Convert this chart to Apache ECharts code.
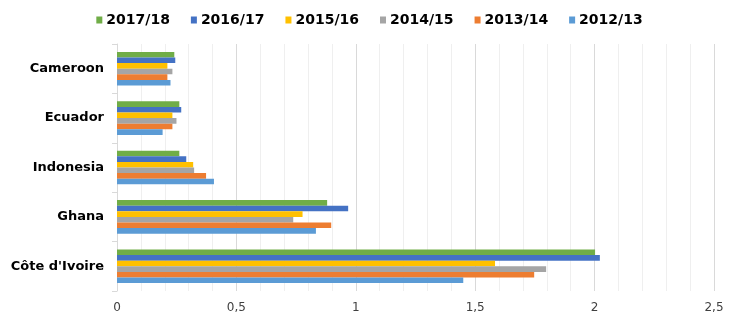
<!DOCTYPE html>
<html><head><meta charset="utf-8">
<script src="https://cdn.jsdelivr.net/npm/echarts@6/dist/echarts.min.js"></script>
<style>html,body{margin:0;padding:0;background:#fff}#c{width:739px;height:322px}</style>
</head><body><div id="c"></div>
<script>
const categories = ["Côte d'Ivoire", "Ghana", "Indonesia", "Ecuador", "Cameroon"];
const seasons = ["2017/18", "2016/17", "2015/16", "2014/15", "2013/14", "2012/13"];
const s2017_18 = [2.002, 0.880, 0.261, 0.261, 0.240];
const s2016_17 = [2.022, 0.968, 0.290, 0.269, 0.244];
const s2015_16 = [1.583, 0.777, 0.319, 0.232, 0.211];
const s2014_15 = [1.797, 0.738, 0.323, 0.249, 0.232];
const s2013_14 = [1.747, 0.897, 0.373, 0.232, 0.211];
const s2012_13 = [1.45, 0.833, 0.406, 0.191, 0.224];
const xTicks = [0, 0.5, 1, 1.5, 2, 2.5];
const values = [s2017_18, s2016_17, s2015_16, s2014_15, s2013_14, s2012_13];
const colors = ["#70AD47", "#4472C4", "#FFC000", "#A5A5A5", "#ED7D31", "#5B9BD5"];

const chart = echarts.init(document.getElementById('c'));
chart.setOption({
  animation: false,
  legend: {
    data: seasons,
    left: 'center', top: 8,
    itemWidth: 6, itemHeight: 7, itemGap: 21,
    icon: 'rect',
    textStyle: { fontFamily: 'DejaVu Sans', fontWeight: 'bold', fontSize: 14, color: '#000', padding: [0,0,0,-1] }
  },
  grid: { left: 117, right: 25, top: 44, bottom: 31 },
  xAxis: {
    type: 'value', min: xTicks[0], max: xTicks[xTicks.length - 1], interval: 0.5,
    axisLine: { show: false }, axisTick: { show: false },
    axisLabel: { fontFamily: 'DejaVu Sans', fontSize: 12, color: '#404040', margin: 11,
      formatter: v => String(v).replace('.', ',') },
    splitLine: { show: true, lineStyle: { color: '#D9D9D9', width: 1 } },
    minorTick: { show: false, splitNumber: 5 },
    minorSplitLine: { show: true, lineStyle: { color: '#EFEFEF', width: 1 } }
  },
  yAxis: {
    type: 'category', data: categories,
    axisLine: { show: true, lineStyle: { color: '#D9D9D9' } },
    axisTick: { show: true, length: 5, lineStyle: { color: '#D9D9D9' } },
    axisLabel: { fontFamily: 'DejaVu Sans', fontWeight: 'bold', fontSize: 13, color: '#000', margin: 13 }
  },
  series: seasons.map((s, i) => ({
    name: s, type: 'bar', data: values[i],
    itemStyle: { color: colors[i] },
    barGap: '0%', barCategoryGap: '32%'
  }))
});
</script></body></html>
